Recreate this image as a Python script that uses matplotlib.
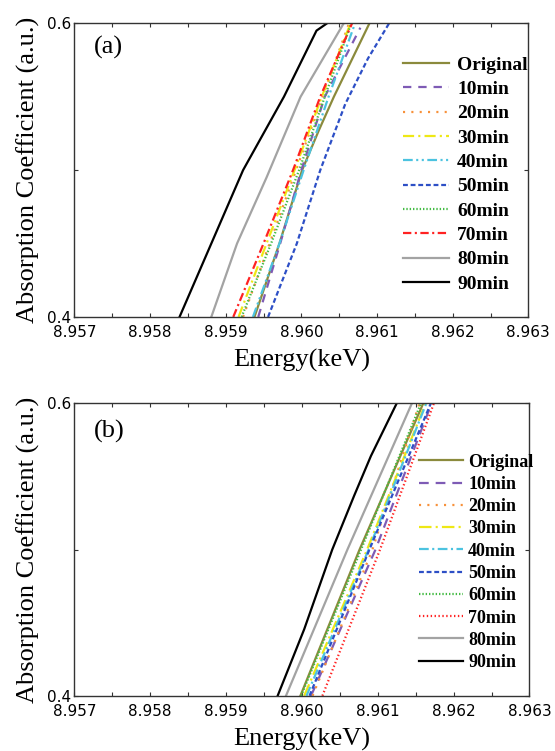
import numpy as np
import matplotlib.pyplot as plt
from matplotlib.ticker import MultipleLocator, FormatStrFormatter

plt.rcParams['lines.scale_dashes'] = False

labels = ['Original', '10min', '20min', '30min', '40min',
          '50min', '60min', '70min', '80min', '90min']
colors = ['#8b8a3c', '#7e5bb5', '#f7913a', '#eee815', '#4cc3e0',
          '#2d4fc6', '#44bb44', '#ff2222', '#a3a3a3', '#000000']

# panel (a): energy (keV) at given absorption values
a_e = [
    [8.95938, 8.95971, 8.96001, 8.96023, 8.96043, 8.96090],
    [8.95943, 8.95972, 8.96000, 8.96031, 8.96078],
    [8.95923, 8.95958, 8.95993, 8.96028, 8.96063],
    [8.95917, 8.95954, 8.95991, 8.96027, 8.96065],
    [8.95936, 8.95971, 8.96003, 8.96036, 8.96071],
    [8.95956, 8.95994, 8.96025, 8.96058, 8.96088, 8.96116],
    [8.95921, 8.95960, 8.95997, 8.96031, 8.96066],
    [8.95910, 8.95950, 8.95989, 8.96025, 8.96067],
    [8.95881, 8.95915, 8.95954, 8.95999, 8.96056],
    [8.95839, 8.95881, 8.95923, 8.95977, 8.96020, 8.96034],
]
a_y = [
    [0.40, 0.45, 0.50, 0.527, 0.55, 0.60],
    [0.40, 0.45, 0.50, 0.55, 0.597],
    [0.40, 0.45, 0.50, 0.55, 0.60],
    [0.40, 0.45, 0.50, 0.55, 0.60],
    [0.40, 0.45, 0.50, 0.55, 0.60],
    [0.40, 0.45, 0.50, 0.545, 0.576, 0.60],
    [0.40, 0.45, 0.50, 0.55, 0.60],
    [0.40, 0.45, 0.50, 0.55, 0.60],
    [0.40, 0.45, 0.495, 0.55, 0.60],
    [0.40, 0.45, 0.50, 0.55, 0.595, 0.60],
]

# panel (b)
b_e = [
    [8.95998, 8.96076, 8.96160],
    [8.96012, 8.96097, 8.96168],
    [8.96014, 8.96093, 8.96155],
    [8.96003, 8.96086, 8.96163],
    [8.96006, 8.96088, 8.96164],
    [8.96010, 8.96089, 8.96170],
    [8.95999, 8.96078, 8.96157],
    [8.96027, 8.96103, 8.96174],
    [8.95979, 8.96060, 8.96145],
    [8.95968, 8.96003, 8.96040, 8.96069, 8.96091, 8.96125],
]
b_y = [
    [0.40, 0.50, 0.60],
    [0.40, 0.50, 0.596],
    [0.40, 0.50, 0.60],
    [0.40, 0.50, 0.60],
    [0.40, 0.50, 0.60],
    [0.40, 0.50, 0.60],
    [0.40, 0.50, 0.60],
    [0.40, 0.50, 0.60],
    [0.40, 0.50, 0.60],
    [0.40, 0.4455, 0.50, 0.537, 0.564, 0.60],
]

styles_a = ['-', (0, (6, 5)), (0, (1.5, 4.5)), (0, (8, 3, 1.5, 3)),
            (0, (7, 2.5, 1.5, 2.5, 1.5, 2.5)), (0, (3.5, 2)), (0, (1, 1.4)),
            (0, (6, 2.5, 1.5, 2.5)), '-', '-']
styles_b = ['-', (0, (7, 5)), (0, (1.5, 4.5)), (0, (9, 3, 1.5, 3)),
            (0, (7, 2.5, 1.5, 2.5)), (0, (3.5, 2)), (0, (1, 1.4)),
            (0, (1, 1.8)), '-', '-']

fig = plt.figure(figsize=(5.55, 7.51), dpi=100)
ax_a = fig.add_axes([0.134, 0.578, 0.818, 0.391])
ax_b = fig.add_axes([0.134, 0.0735, 0.820, 0.3895])


def setup(ax, tag, E, Y, styles, leg_fs, leg_anchor, spacing, textpad):
    for i in range(len(labels)):
        ax.plot(E[i], Y[i], linestyle=styles[i], color=colors[i], lw=1.6,
                label=labels[i])
    ax.set_xlim(8.957, 8.963)
    ax.set_ylim(0.4, 0.6)
    ax.xaxis.set_major_locator(MultipleLocator(0.001))
    ax.xaxis.set_minor_locator(MultipleLocator(0.0005))
    ax.yaxis.set_major_locator(MultipleLocator(0.2))
    ax.yaxis.set_minor_locator(MultipleLocator(0.1))
    ax.xaxis.set_major_formatter(FormatStrFormatter('%.3f'))
    ax.yaxis.set_major_formatter(FormatStrFormatter('%.1f'))
    ax.tick_params(which='both', direction='in', top=True, right=True,
                   length=3, width=0.8, color='#333333')
    ax.tick_params(axis='x', which='major', labelsize=11, pad=6)
    ax.tick_params(axis='y', which='major', labelsize=11, pad=2)
    for s in ax.spines.values():
        s.set_linewidth(1.0)
        s.set_color('#333333')
    ax.set_xlabel('Energy(keV)', family='Liberation Serif', fontsize=19,
                  labelpad=6)
    ax.set_ylabel('Absorption Coefficient (a.u.)', family='Liberation Serif',
                  fontsize=19, labelpad=5)
    ax.text(0.043, tag[1], tag[0], transform=ax.transAxes, ha='left',
            va='center', family='Liberation Serif', fontsize=19)
    ax.legend(loc='upper left', bbox_to_anchor=leg_anchor, frameon=False,
              prop={'family': 'Liberation Serif', 'weight': 'bold',
                    'size': leg_fs},
              handlelength=2.4, handletextpad=textpad, labelspacing=spacing,
              borderpad=0, borderaxespad=0)


setup(ax_a, ('(a)', 0.918), a_e, a_y, styles_a, 14, (0.723, 0.888), 0.345, 0.4)
setup(ax_b, ('(b)', 0.904), b_e, b_y, styles_b, 13, (0.758, 0.828), 0.292, 0.3)

fig.savefig('out.png', dpi=100)
